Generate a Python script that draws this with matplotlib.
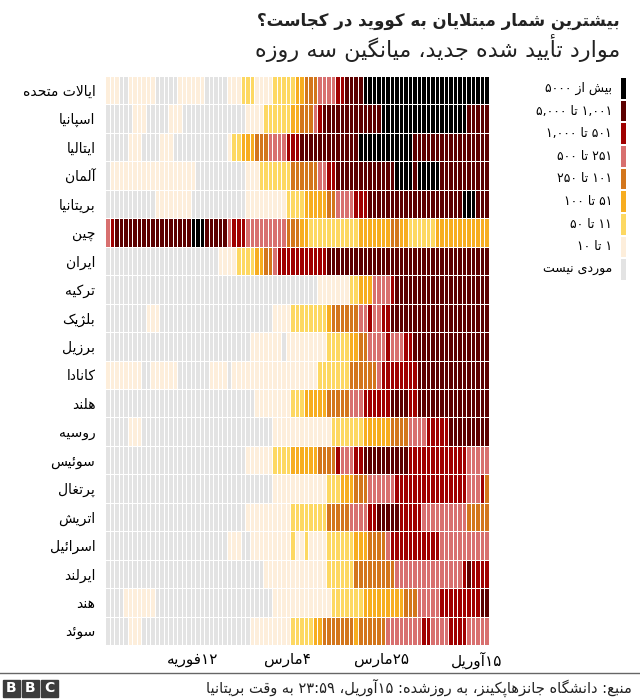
import matplotlib
matplotlib.use("Agg")
import matplotlib.pyplot as plt
import numpy as np
import pandas as pd
from matplotlib.colors import ListedColormap, BoundaryNorm
from matplotlib.patches import Rectangle
from matplotlib.lines import Line2D

plt.rcParams['font.family'] = ['DejaVu Sans']

# ---------------- data ----------------
# categories: 0 none, 1: 1-10, 2: 11-50, 3: 51-100, 4: 101-250,
# 5: 251-500, 6: 501-1000, 7: 1001-5000, 8: >5000
# each country: (category, number of days) runs, 22 Jan -> 15 Apr
usa = [(1, 3), (0, 2), (1, 6), (0, 5), (1, 6), (0, 5), (1, 3), (2, 3), (1, 4), (2, 5),
       (3, 2), (4, 3), (5, 4), (6, 2), (7, 4), (8, 28)]
spain = [(0, 6), (1, 3), (0, 5), (1, 3), (0, 14), (1, 4), (2, 6), (3, 2), (4, 3), (5, 1),
         (6, 1), (7, 13), (8, 19), (7, 5)]
italy = [(0, 5), (1, 3), (0, 4), (1, 3), (0, 12), (1, 1), (2, 2), (3, 3), (4, 3), (5, 4),
         (6, 3), (7, 13), (8, 12), (7, 17)]
germany = [(0, 1), (1, 19), (0, 11), (1, 3), (2, 7), (4, 6), (5, 2), (6, 2), (7, 13),
           (8, 4), (7, 1), (8, 5), (7, 11)]
uk = [(0, 11), (1, 8), (0, 12), (1, 9), (2, 4), (3, 5), (4, 2), (5, 4), (6, 3), (7, 21),
      (8, 3), (7, 3)]
china = [(5, 1), (6, 1), (7, 17), (8, 3), (7, 5), (5, 1), (6, 3), (5, 9), (4, 3), (3, 2),
         (2, 11), (3, 7), (4, 2), (3, 2), (2, 6), (3, 12)]
iran = [(0, 25), (1, 4), (2, 4), (3, 2), (4, 2), (5, 1), (6, 11), (7, 36)]
turkey = [(0, 47), (1, 7), (2, 2), (3, 3), (5, 4), (6, 1), (7, 21)]
belgium = [(0, 9), (1, 3), (0, 25), (1, 4), (2, 8), (3, 1), (4, 6), (5, 2), (6, 1), (5, 2),
           (6, 2), (7, 22)]
brazil = [(0, 32), (1, 7), (0, 1), (1, 9), (2, 5), (3, 2), (4, 2), (5, 4), (6, 1), (5, 3),
          (6, 2), (7, 17)]
canada = [(1, 8), (0, 2), (1, 6), (0, 7), (1, 4), (0, 1), (1, 19), (2, 7), (4, 6), (5, 1),
          (6, 8), (7, 16)]
netherlands = [(0, 33), (1, 8), (2, 3), (3, 5), (4, 5), (5, 3), (6, 6), (7, 4), (6, 2), (7, 16)]
russia = [(0, 5), (1, 3), (0, 29), (1, 13), (2, 7), (3, 6), (4, 4), (5, 4), (6, 5), (7, 9)]
switzerland = [(0, 31), (1, 6), (2, 4), (3, 6), (4, 4), (6, 1), (5, 3), (6, 2), (7, 10),
               (6, 13), (5, 5)]
portugal = [(0, 37), (1, 12), (2, 3), (3, 3), (4, 3), (5, 6), (6, 16), (5, 3), (6, 1), (4, 1)]
austria = [(0, 31), (1, 10), (2, 8), (4, 5), (5, 4), (6, 2), (7, 5), (6, 5), (5, 10), (4, 5)]
israel = [(0, 27), (1, 3), (0, 2), (1, 9), (2, 1), (1, 2), (2, 1), (1, 4), (2, 6), (3, 3),
          (4, 4), (5, 1), (6, 11), (5, 11)]
ireland = [(0, 35), (1, 14), (2, 6), (4, 9), (5, 15), (6, 1), (7, 1), (6, 4)]
india = [(0, 4), (1, 7), (0, 26), (1, 13), (2, 7), (3, 9), (4, 3), (5, 5), (6, 9), (7, 2)]
sweden = [(0, 5), (1, 3), (0, 24), (1, 9), (2, 5), (3, 2), (4, 7), (3, 1), (4, 6), (5, 8),
          (6, 2), (5, 4), (6, 4), (5, 5)]

rows = [usa, spain, italy, germany, uk, china, iran, turkey, belgium, brazil,
        canada, netherlands, russia, switzerland, portugal, austria, israel,
        ireland, india, sweden]
countries = ['ایالات متحده', 'اسپانیا', 'ایتالیا', 'آلمان', 'بریتانیا', 'چین', 'ایران',
             'ترکیه', 'بلژیک', 'برزیل', 'کانادا', 'هلند', 'روسیه', 'سوئیس', 'پرتغال',
             'اتریش', 'اسرائیل', 'ایرلند', 'هند', 'سوئد']

dates = pd.date_range('2020-01-22', '2020-04-15')
tick_dates = ['2020-02-12', '2020-03-04', '2020-03-25', '2020-04-15']
tick_labels = ['۱۲فوریه', '۴مارس', '۲۵مارس', '۱۵آوریل']

legend_labels = ['موردی نیست', '۱ تا ۱۰', '۱۱ تا ۵۰', '۵۱ تا ۱۰۰', '۱۰۱ تا ۲۵۰',
                 '۲۵۱ تا ۵۰۰', '۵۰۱ تا ۱,۰۰۰', '۱,۰۰۱ تا ۵,۰۰۰', 'بیش از ۵۰۰۰']
colors = ['#e3e3e3', '#fdeedb', '#fdd862', '#f7ad20', '#d3761c', '#d8706f',
          '#a00000', '#5c0000', '#000000']

title = 'بیشترین شمار مبتلایان به کووید در کجاست؟'
subtitle = 'موارد تأیید شده جدید، میانگین سه روزه'
source = 'منبع: دانشگاه جانزهاپکینز، به روزشده: ۱۵آوریل، ۲۳:۵۹ به وقت بریتانیا'


# ------------- persian shaping (matplotlib has no bidi / joining) -------------
def _f4(start):
    return tuple(chr(start + k) for k in range(4))


def _f2(start):
    return (chr(start), chr(start + 1), None, None)


FORMS = {
    'ء': ('\ufe80', None, None, None),
    'آ': _f2(0xFE81), 'أ': _f2(0xFE83), 'ؤ': _f2(0xFE85), 'إ': _f2(0xFE87),
    'ئ': _f4(0xFE89), 'ا': _f2(0xFE8D), 'ب': _f4(0xFE8F), 'ة': _f2(0xFE93),
    'ت': _f4(0xFE95), 'ث': _f4(0xFE99), 'ج': _f4(0xFE9D), 'ح': _f4(0xFEA1),
    'خ': _f4(0xFEA5), 'د': _f2(0xFEA9), 'ذ': _f2(0xFEAB), 'ر': _f2(0xFEAD),
    'ز': _f2(0xFEAF), 'س': _f4(0xFEB1), 'ش': _f4(0xFEB5), 'ص': _f4(0xFEB9),
    'ض': _f4(0xFEBD), 'ط': _f4(0xFEC1), 'ظ': _f4(0xFEC5), 'ع': _f4(0xFEC9),
    'غ': _f4(0xFECD), 'ف': _f4(0xFED1), 'ق': _f4(0xFED5), 'ك': _f4(0xFED9),
    'ل': _f4(0xFEDD), 'م': _f4(0xFEE1), 'ن': _f4(0xFEE5), 'ه': _f4(0xFEE9),
    'و': _f2(0xFEED), 'ي': _f4(0xFEF1),
    'پ': _f4(0xFB56), 'چ': _f4(0xFB7A), 'ژ': _f2(0xFB8A),
    'ک': ('\ufb8e', '\ufb8f', '\ufedb', '\ufedc'),
    'گ': _f4(0xFB92),
    'ی': ('\ufeef', '\ufef0', '\ufef3', '\ufef4'),
}
LAM_ALEF = {'ا': ('\ufefb', '\ufefc'), 'آ': ('\ufef5', '\ufef6'),
            'أ': ('\ufef7', '\ufef8'), 'إ': ('\ufef9', '\ufefa')}
DIGITS = set('0123456789۰۱۲۳۴۵۶۷۸۹')


def dual(c):
    return c in FORMS and FORMS[c][2] is not None


def joinable(c):
    return c in FORMS and FORMS[c][1] is not None


def shape(s):
    out = []
    i = 0
    while i < len(s):
        c = s[i]
        if c not in FORMS:
            out.append(c)
            i += 1
            continue
        prev = s[i - 1] if i > 0 else ''
        jp = dual(prev) and joinable(c)
        if c == 'ل' and i + 1 < len(s) and s[i + 1] in LAM_ALEF:
            out.append(LAM_ALEF[s[i + 1]][1 if jp else 0])
            i += 2
            continue
        nxt = s[i + 1] if i + 1 < len(s) else ''
        jn = dual(c) and joinable(nxt)
        iso, fin, ini, med = FORMS[c]
        out.append(med if (jp and jn) else fin if jp else ini if jn else iso)
        i += 1
    return ''.join(out)


def fa(s):
    s = shape(s)
    tokens = []
    i = 0
    while i < len(s):
        if s[i] in DIGITS:
            j = i
            while j < len(s) and (s[j] in DIGITS or
                                  (s[j] in ',:.' and j + 1 < len(s) and s[j + 1] in DIGITS)):
                j += 1
            tokens.append(s[i:j])
            i = j
        else:
            tokens.append(s[i])
            i += 1
    return ''.join(reversed(tokens))


def expand(runs, n):
    row = []
    for cat, k in runs:
        row += [cat] * k
    row = (row + [row[-1]] * n)[:n]
    return row


# ---------------- figure ----------------
ndays = len(dates)
grid = np.array([expand(r, ndays) for r in rows])

fig = plt.figure(figsize=(6.4, 7), dpi=100)
ax = fig.add_axes([105 / 640, 1 - 645 / 700, 384 / 640, 569 / 700])

cmap = ListedColormap(colors)
norm = BoundaryNorm(np.arange(-0.5, 9.5, 1), cmap.N)
ax.pcolormesh(np.arange(ndays + 1), np.arange(len(rows) + 1), grid, cmap=cmap,
              norm=norm, edgecolors='white', linewidth=0.6)
ax.set_xlim(0, ndays)
ax.set_ylim(len(rows), 0)
for s in ax.spines.values():
    s.set_visible(False)

ax.set_yticks(np.arange(len(rows)) + 0.5)
ax.set_yticklabels([fa(c) for c in countries], fontsize=10)
ax.set_xticks([])
ax.tick_params(length=0, pad=7)

# date labels, a little to the left of their day
for d, t in zip(tick_dates, tick_labels):
    x = dates.get_loc(pd.Timestamp(d)) + 0.5
    ax.annotate(fa(t), xy=(x, 0), xycoords=('data', 'axes fraction'),
                xytext=(-10, -7), textcoords='offset pixels',
                ha='center', va='top', fontsize=11)

# legend
lax = fig.add_axes([621 / 640, 1 - 281 / 700, 5 / 640, 204 / 700])
for k in range(9):
    cat = 8 - k
    lax.add_patch(Rectangle((0, k + 0.05), 1, 0.9, color=colors[cat], lw=0))
    lax.annotate(fa(legend_labels[cat]), xy=(0, k + 0.5), xytext=(-9, 0),
                 textcoords='offset pixels', ha='right', va='center', fontsize=9)
lax.set_xlim(0, 1)
lax.set_ylim(9, 0)
lax.axis('off')

# titles
fig.text(620 / 640, 1 - 21 / 700, fa(title), ha='right', va='center',
         fontsize=12, fontweight='bold', color='#222222')
fig.text(620 / 640, 1 - 48 / 700, fa(subtitle), ha='right', va='center',
         fontsize=16, color='#222222')

# footer
fig.add_artist(Line2D([0, 1], [1 - 673 / 700] * 2, color='#666666', lw=1))
for k, letter in enumerate('BBC'):
    x0 = (3 + 19 * k) / 640
    fig.add_artist(Rectangle((x0, 1 - 697 / 700), 17 / 640, 17 / 700,
                             color='#3c3c3c', transform=fig.transFigure))
    fig.text(x0 + 8.5 / 640, 1 - 688.5 / 700, letter, ha='center', va='center',
             color='white', fontsize=10, fontweight='bold')
fig.text(632 / 640, 1 - 688 / 700, fa(source), ha='right', va='center',
         fontsize=10.5, color='#222222')

fig.savefig('out.png', dpi=100)
